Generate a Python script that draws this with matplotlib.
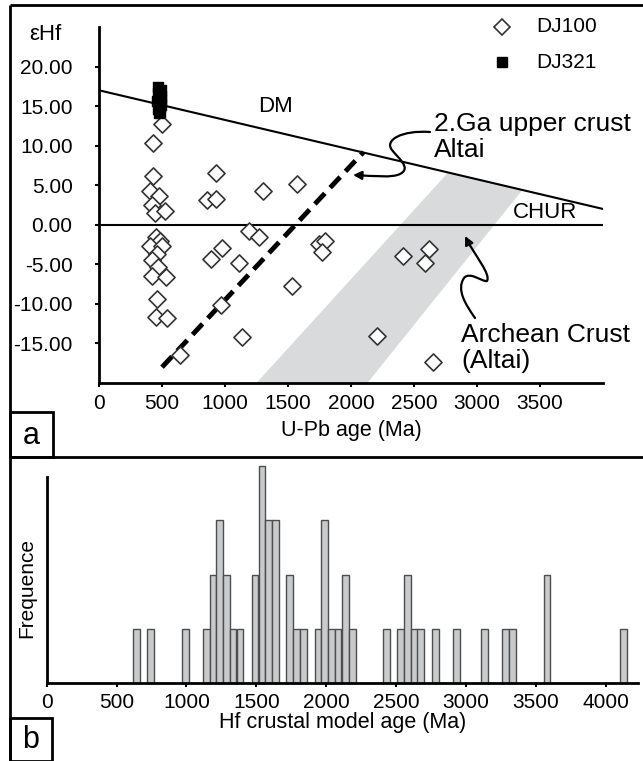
import matplotlib
matplotlib.use("Agg")
import matplotlib.pyplot as plt
from matplotlib.lines import Line2D
from matplotlib.patches import FancyArrowPatch, Rectangle
from matplotlib.path import Path

plt.rcParams["font.family"] = ["Liberation Sans", "DejaVu Sans"]

# ---- data ----
dj100_age = [500, 428, 430, 928, 405, 476, 857, 928, 1303, 1571, 420, 444, 524,
             452, 484, 405, 500, 460, 420, 468, 420, 532, 460, 452, 540,
             976, 889, 1111, 968, 1135, 643, 1190, 1270,
             1746, 1794, 1770, 1532, 2413, 2619, 2587, 2206, 2651]
dj100_eps = [12.8, 10.4, 6.2, 6.5, 4.3, 3.7, 3.1, 3.2, 4.3, 5.2, 2.5, 1.5, 1.8,
             -1.6, -2.0, -2.7, -2.7, -3.7, -4.5, -5.4, -6.5, -6.6, -9.4, -11.6, -11.8,
             -2.9, -4.3, -4.8, -10.1, -14.2, -16.4, -0.8, -1.5,
             -2.4, -2.0, -3.5, -7.8, -3.9, -3.1, -4.8, -14.1, -17.3]
dj321_age = [470, 490, 465, 495, 478, 462, 492, 484, 468, 488, 475, 495]
dj321_eps = [17.4, 17.0, 16.6, 16.3, 16.0, 15.6, 15.2, 14.9, 14.6, 14.3, 14.1, 15.8]

dm_age = [0, 4000]
dm_eps = [17.0, 2.0]
chur_age = [0, 4000]
chur_eps = [0.0, 0.0]
crust2ga_age = [500, 2100]
crust2ga_eps = [-18.0, 9.2]
archean_age = [1250, 2770, 3360, 2130]
archean_eps = [-20.0, 6.6, 4.4, -20.0]

upb_ticks = [0, 500, 1000, 1500, 2000, 2500, 3000, 3500]
eps_ticks = [-15, -10, -5, 0, 5, 10, 15, 20]

hf_age = [643, 744, 995, 1143, 1190, 1238, 1286, 1333, 1383, 1490, 1540, 1588,
          1636, 1738, 1788, 1836, 1940, 1988, 2036, 2084, 2136, 2186, 2431, 2533,
          2581, 2629, 2676, 2781, 2931, 3133, 3281, 3331, 3579, 4126]
hf_count = [1, 1, 1, 1, 2, 3, 2, 1, 1, 2, 4, 3,
            3, 2, 1, 1, 1, 3, 1, 1, 2, 1, 1, 1,
            2, 1, 1, 1, 1, 1, 1, 1, 2, 1]
hf_ticks = [0, 500, 1000, 1500, 2000, 2500, 3000, 3500, 4000]

W, H = 643, 761


def fx(px):
    return px / W


def fy(py):
    return 1 - py / H


def fig_path(points, codes):
    return Path([(fx(x), fy(y)) for x, y in points], codes)


fig = plt.figure(figsize=(W / 100, H / 100), dpi=100)

# ---- panel a ----
ax = fig.add_axes([fx(99), fy(383), fx(603) - fx(99), fy(27) - fy(383)])
ax.set_xlim(0, 4000)
ax.set_ylim(-20, 25)
for side in ["top", "right"]:
    ax.spines[side].set_visible(False)
for side in ["left", "bottom"]:
    ax.spines[side].set_linewidth(2)

ax.fill(archean_age, archean_eps, color="#d9dadb", lw=0, zorder=1)
ax.plot(dm_age, dm_eps, color="black", lw=1.5, zorder=2)
ax.plot(chur_age, chur_eps, color="black", lw=1.5, zorder=2)
ax.plot(crust2ga_age, crust2ga_eps, color="black", lw=3.5, ls=(0, (3.0, 1.6)), zorder=2)

ax.scatter(dj100_age, dj100_eps, marker="D", s=76, facecolor="white",
           edgecolor="#333333", linewidth=1.2, zorder=3, clip_on=False)
ax.scatter(dj321_age, dj321_eps, marker="s", s=55, color="black", zorder=4)

ax.set_xticks(upb_ticks)
ax.set_xticklabels([str(t) for t in upb_ticks])
ax.set_yticks(eps_ticks)
ax.set_yticklabels(["%.2f" % t for t in eps_ticks])
ax.tick_params(axis="both", direction="out", length=3, width=1.5, labelsize=15)
ax.tick_params(axis="y", pad=16)
ax.tick_params(axis="x", pad=5)
ax.set_xlabel("U-Pb age (Ma)", fontsize=15.5, labelpad=5)

fig.text(fx(275), fy(106), "DM", fontsize=16, ha="center", va="center")
fig.text(fx(545), fy(213), "CHUR", fontsize=16, ha="center", va="center")
fig.text(fx(434), fy(137), "2.Ga upper crust\nAltai", fontsize=19,
         ha="left", va="center", linespacing=1.08)
fig.text(fx(461), fy(348), "Archean Crust\n(Altai)", fontsize=19,
         ha="left", va="center", linespacing=1.08)
fig.text(fx(45), fy(34), "\u03b5Hf", fontsize=16, ha="center", va="center")

# legend
fig.add_artist(Line2D([fx(502)], [fy(27)], marker="D", ms=8.5, mfc="white",
                      mec="#333333", mew=1.2, ls="none"))
fig.add_artist(Line2D([fx(502)], [fy(62)], marker="s", ms=7, color="black",
                      ls="none"))
fig.text(fx(536), fy(27), "DJ100", fontsize=15, va="center")
fig.text(fx(536), fy(62), "DJ321", fontsize=15, va="center")

# curly arrows
c4 = Path.CURVE4
arrow1 = fig_path(
    [(430, 132), (402, 130), (384, 140), (392, 150),
     (398, 158), (412, 168), (400, 174),
     (392, 178), (375, 176), (353, 175)],
    [Path.MOVETO, c4, c4, c4, c4, c4, c4, c4, c4, c4])
fig.add_artist(FancyArrowPatch(path=arrow1, arrowstyle="-|>,head_length=5,head_width=2.5",
                               color="black", lw=1.6, transform=fig.transFigure))
arrow2 = fig_path(
    [(475, 318), (466, 305), (456, 290), (464, 278),
     (470, 271), (482, 282), (487, 281),
     (491, 274), (475, 256), (465, 236)],
    [Path.MOVETO, c4, c4, c4, c4, c4, c4, c4, c4, c4])
fig.add_artist(FancyArrowPatch(path=arrow2, arrowstyle="-|>,head_length=5,head_width=2.5",
                               color="black", lw=1.6, transform=fig.transFigure))

# ---- panel b ----
bx = fig.add_axes([fx(46.7), fy(683), fx(638) - fx(46.7), fy(477) - fy(683)])
bx.set_xlim(0, 4230)
bx.set_ylim(0, 3.8)
for side in ["top", "right"]:
    bx.spines[side].set_visible(False)
for side in ["left", "bottom"]:
    bx.spines[side].set_linewidth(2)
bx.bar(hf_age, hf_count, width=48, color="#c9cacc", edgecolor="#4d4d4d",
       linewidth=1.0, clip_on=False, zorder=2)
bx.set_yticks([])
bx.set_xticks(hf_ticks)
bx.set_xticklabels([str(t) for t in hf_ticks])
bx.tick_params(axis="x", direction="out", length=3, width=1.5, labelsize=15, pad=4)
bx.set_xlabel("Hf crustal model age (Ma)", fontsize=15.5, labelpad=0)
fig.text(fx(27), fy(588), "Frequence", fontsize=15, rotation=90,
         ha="center", va="center")

# ---- frame and panel letters ----
frame_lw = 2
for (x0, y0, x1, y1) in [(10, 5, 643, 5), (10, 5, 10, 761), (10, 457, 643, 457)]:
    fig.add_artist(Line2D([fx(x0), fx(x1)], [fy(y0), fy(y1)], color="black",
                          lw=frame_lw, solid_capstyle="butt"))
fig.add_artist(Rectangle((fx(10), fy(457)), fx(53) - fx(10), fy(412) - fy(457),
                         fill=False, lw=frame_lw, transform=fig.transFigure))
fig.add_artist(Rectangle((fx(10), fy(761)), fx(52) - fx(10), fy(718) - fy(761),
                         fill=False, lw=frame_lw, transform=fig.transFigure))
fig.text(fx(31), fy(436), "a", fontsize=22, ha="center", va="center")
fig.text(fx(31), fy(740), "b", fontsize=22, ha="center", va="center")

fig.savefig("out.png", dpi=100)
